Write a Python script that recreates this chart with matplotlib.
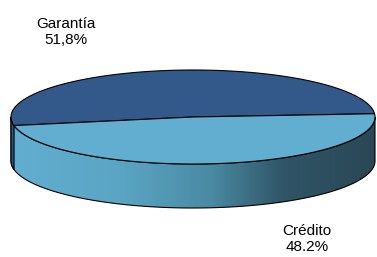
import matplotlib.pyplot as plt
import matplotlib.colors as mcolors
from matplotlib.patches import Polygon
import numpy as np

plt.rcParams['font.family'] = ['Liberation Sans', 'DejaVu Sans']

categories = ["Garantía", "Crédito"]
shares = [51.8, 48.2]
pct_labels = ["51,8%", "48.2%"]
top_colors = ["#33598a", "#62aed0"]

# ellipse layout in pixel space (y down)
cx, cy = 193, 117
a, b = 182, 47
depth = 44
start = 4.0


def ell(t, dy=0):
    t = np.radians(t)
    return np.column_stack([cx + a * np.cos(t), cy - b * np.sin(t) + dy])


fig = plt.figure(figsize=(3.77, 2.57), dpi=100)
ax = fig.add_axes([0, 0, 1, 1])
ax.set_xlim(0, 377)
ax.set_ylim(257, 0)
ax.axis("off")

# slice angles
bounds = [start]
for s in shares:
    bounds.append(bounds[-1] + s / sum(shares) * 360)

# side wall: front half, from 180 to 360
t_side = np.linspace(180, 360, 200)
side_pts = np.vstack([ell(t_side), ell(t_side[::-1], depth)])
side = Polygon(side_pts, closed=True, facecolor="none", edgecolor="black", lw=0.8, zorder=2)
ax.add_patch(side)
grad = np.linspace(0, 1, 256).reshape(1, -1)
cmap = mcolors.LinearSegmentedColormap.from_list(
    "side", [(0, "#62aed0"), (0.3, "#5aa5c4"), (0.55, "#4a8aa3"), (0.75, "#2f5566"), (1, "#2b4756")])
im = ax.imshow(grad, cmap=cmap, extent=[cx - a, cx + a, cy + b + depth, cy - b],
               aspect="auto", zorder=1)
im.set_clip_path(side)

# dark strip of the first slice on the left side
t_strip = np.linspace(180, bounds[1], 30)
strip = np.vstack([ell(t_strip), ell(t_strip[::-1], depth)])
ax.add_patch(Polygon(strip, closed=True, facecolor="#2f5380", edgecolor="black", lw=0.8, zorder=2))

# top slices
for i in range(len(shares)):
    t = np.linspace(bounds[i], bounds[i + 1], 200)
    pts = np.vstack([[cx, cy], ell(t)])
    ax.add_patch(Polygon(pts, closed=True, facecolor=top_colors[i], edgecolor="black", lw=0.8, zorder=3))

# labels
ax.text(66, 32, f"{categories[0]}\n{pct_labels[0]}", ha="center", va="center",
        fontsize=11, linespacing=1.25, zorder=4)
ax.text(307, 239, f"{categories[1]}\n{pct_labels[1]}", ha="center", va="center",
        fontsize=11, linespacing=1.25, zorder=4)

fig.savefig("out.png", dpi=100)
